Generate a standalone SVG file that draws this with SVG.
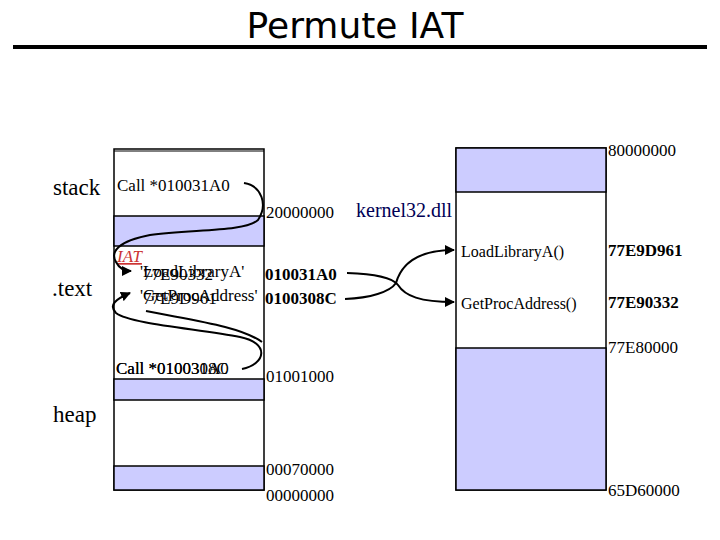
<svg xmlns="http://www.w3.org/2000/svg" width="720" height="540" viewBox="0 0 720 540">
<style>
.t{font-family:"Liberation Serif","Times New Roman",serif;fill:#000}
.s{font-size:17px}
.b{font-size:17px;font-weight:bold}
.lbl{font-size:23px}
.blk{fill:#ccccff;stroke:#000;stroke-width:1.5}
.wht{fill:#fff;stroke:#000;stroke-width:1.5}
.c{fill:none;stroke:#000;stroke-width:2}
</style>
<defs>
<marker id="ah" viewBox="0 0 10 10" refX="9" refY="5" markerWidth="5" markerHeight="5" orient="auto">
<path d="M0,0 L10,5 L0,10 z" fill="#000"/>
</marker>
</defs>
<rect width="720" height="540" fill="#fff"/>
<g id="title">
<text x="355" y="38" text-anchor="middle" style="font-family:'DejaVu Sans',Tahoma,sans-serif;font-size:36px">Permute IAT</text>
<line x1="13" y1="47" x2="707" y2="47" stroke="#000" stroke-width="4"/>
</g>
<g id="process-memory">
<rect class="wht" x="114" y="149" width="150" height="341"/>
<line x1="114" y1="151" x2="264" y2="151" stroke="#000" stroke-width="1"/>
<rect class="blk" x="114" y="216" width="150" height="30"/>
<rect class="blk" x="114" y="379" width="150" height="21"/>
<rect class="blk" x="114" y="466" width="150" height="24"/>
</g>
<g id="kernel32-memory">
<rect class="wht" x="456" y="148" width="150" height="342"/>
<rect class="blk" x="456" y="148" width="150" height="44"/>
<rect class="blk" x="456" y="348" width="150" height="142"/>
</g>
<g id="region-labels">
<text class="t lbl" x="53" y="195">stack</text>
<text class="t lbl" x="52" y="296">.text</text>
<text class="t lbl" x="53" y="422">heap</text>
<text class="t" x="356" y="217" style="font-size:20px;fill:#000055">kernel32.dll</text>
</g>
<g id="stack-call">
<text class="t s" x="117" y="191">Call *010031A0</text>
</g>
<g id="iat">
<text class="t" x="117" y="262" style="font-size:17px;font-style:italic;fill:#cc3333;text-decoration:underline">IAT</text>
<text class="t s" x="140" y="277">'LoadLibraryA'</text>
<text class="t s" x="143" y="280">77E90332</text>
<text class="t s" x="140" y="301">'GetProcAddress'</text>
<text class="t s" x="143" y="304">77E9D961</text>
</g>
<g id="text-call">
<text class="t s" x="116" y="374">Call *0100308C</text>
<text class="t s" x="116" y="374">Call *010031A0</text>
</g>
<g id="kernel32-funcs">
<text class="t" x="461" y="257" style="font-size:16px">LoadLibraryA()</text>
<text class="t" x="461" y="309" style="font-size:16px">GetProcAddress()</text>
</g>
<g id="addresses">
<text class="t s" x="608" y="156">80000000</text>
<text class="t s" x="266" y="218">20000000</text>
<text class="t b" x="265" y="280">010031A0</text>
<text class="t b" x="265" y="304">0100308C</text>
<text class="t b" x="608" y="256">77E9D961</text>
<text class="t b" x="608" y="308">77E90332</text>
<text class="t s" x="608" y="353">77E80000</text>
<text class="t s" x="266" y="382">01001000</text>
<text class="t s" x="266" y="475">00070000</text>
<text class="t s" x="266" y="501">00000000</text>
<text class="t s" x="608" y="496">65D60000</text>
</g>
<g id="connectors">
<path class="c" d="M244,183 C262,186 268,205 258,220 C245,232 190,229 150,235 C118,241 110,252 116,262 C119,268 124,271 131,271" marker-end="url(#ah)"/>
<path class="c" d="M242,369 C266,364 270,343 240,337 C200,329 130,324 116,313 C108,305 116,299 130,293" marker-end="url(#ah)"/>
<path class="c" d="M146,311 C190,320 240,326 262,342"/>
<path class="c" d="M347,273 C375,274 392,277 398,285 C405,296 420,302 454,302" marker-end="url(#ah)"/>
<path class="c" d="M345,299 C370,298 390,292 396,283 C402,262 420,250 454,250" marker-end="url(#ah)"/>
</g>
</svg>
